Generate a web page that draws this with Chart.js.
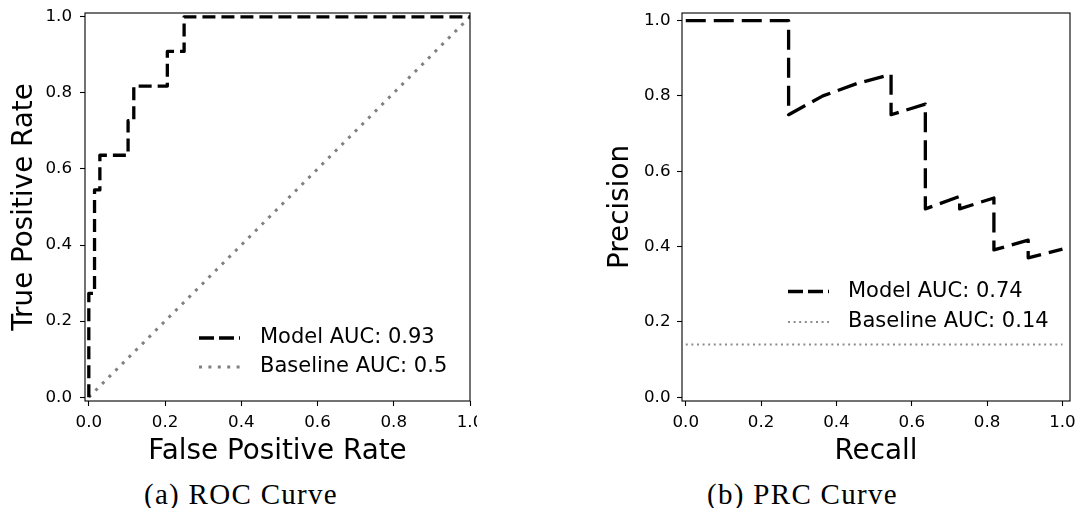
<!DOCTYPE html>
<html>
<head>
<meta charset="utf-8">
<script src="https://cdn.jsdelivr.net/npm/chart.js@4.4.1/dist/chart.umd.min.js"></script>
<style>
  body { margin: 0; background: #fff; }
  #wrap { position: relative; width: 1077px; height: 508px; overflow: hidden; }
  canvas { position: absolute; top: 0; }
  #roc { left: 0; }
  #prc { left: 590px; }
  .caption {
    position: absolute; top: 480px;
    font-family: "Liberation Serif", serif; font-size: 29px; line-height: 29px;
    letter-spacing: 1.3px; text-align: center; color: #000; white-space: nowrap;
  }
</style>
</head>
<body>
<div id="wrap">
  <canvas id="roc" width="477" height="470"></canvas>
  <canvas id="prc" width="487" height="470"></canvas>
  <div class="caption" style="left:0;width:482px">(a) ROC Curve</div>
  <div class="caption" style="left:641px;width:323px">(b) PRC Curve</div>
</div>
<script>
const FONT = 'DejaVu Sans';
const tickValues = [0, 0.2, 0.4, 0.6, 0.8, 1.0];

// ROC curve (step corners)
const rocFpr = [0, 0, 0.015, 0.015, 0.029, 0.029, 0.103, 0.103, 0.118, 0.118, 0.206, 0.206, 0.25, 0.25, 1.0];
const rocTpr = [0, 0.273, 0.273, 0.545, 0.545, 0.636, 0.636, 0.727, 0.727, 0.818, 0.818, 0.909, 0.909, 1.0, 1.0];
const rocChanceX = [0, 1];
const rocChanceY = [0, 1];

// precision-recall curve
const prRecall = [0, 0.273, 0.273, 0.364, 0.455, 0.545, 0.545, 0.636, 0.636, 0.727, 0.727, 0.818, 0.818, 0.909, 0.909, 1.0];
const prPrecision = [1.0, 1.0, 0.75, 0.8, 0.833, 0.857, 0.75, 0.778, 0.5, 0.533, 0.5, 0.529, 0.391, 0.417, 0.37, 0.393];
const prBaseX = [0, 1];
const prBaseY = [0.14, 0.14];

const pts = (xs, ys) => xs.map((x, i) => ({ x, y: ys[i] }));

// full box around the plot area
const frame = {
  id: 'frame',
  afterDatasetsDraw(chart) {
    const { ctx, chartArea: a } = chart;
    ctx.save();
    ctx.strokeStyle = '#000';
    ctx.lineWidth = 1.1;
    ctx.strokeRect(a.left, a.top, a.right - a.left, a.bottom - a.top);
    ctx.restore();
  }
};

// legend drawn inside the axes: line sample + label for each dataset
const insideLegend = {
  id: 'insideLegend',
  afterDraw(chart, args, opts) {
    const { ctx } = chart;
    ctx.save();
    ctx.font = `${opts.fontSize}px "${FONT}"`;
    ctx.textBaseline = 'middle';
    chart.data.datasets.forEach((ds, i) => {
      const y = opts.rows[i];
      ctx.beginPath();
      ctx.setLineDash(ds.legendDash || ds.borderDash || []);
      ctx.lineWidth = ds.borderWidth;
      ctx.strokeStyle = ds.borderColor;
      ctx.moveTo(opts.x, y);
      ctx.lineTo(opts.x + opts.handle, y);
      ctx.stroke();
      ctx.setLineDash([]);
      ctx.fillStyle = '#000';
      ctx.fillText(ds.label, opts.textX, y);
    });
    ctx.restore();
  }
};

function axis(min, max, o) {
  return {
    type: 'linear',
    min, max,
    afterBuildTicks: s => { s.ticks = tickValues.map(v => ({ value: v })); },
    afterFit: s => {
      if (o.size.h) s.height = o.size.h;
      if (o.size.w) s.width = o.size.w;
      s.paddingLeft = s.paddingRight = s.paddingTop = s.paddingBottom = 0;
    },
    ticks: {
      color: '#000',
      font: { family: FONT, size: 16.7 },
      padding: o.pad,
      autoSkip: false,
      maxRotation: 0,
      callback: v => v.toFixed(1)
    },
    grid: { drawOnChartArea: false, drawTicks: true, tickLength: 5, tickWidth: 1.1, tickColor: '#000' },
    border: { display: false },
    title: {
      display: true,
      text: o.title,
      color: '#000',
      font: { family: FONT, size: 27.8, lineHeight: 1 },
      padding: o.titlePad
    }
  };
}

function makeChart(id, datasets, xs, ys, legend) {
  return new Chart(document.getElementById(id), {
    type: 'scatter',
    data: { datasets },
    options: {
      responsive: false,
      animation: false,
      events: [],
      layout: { padding: { top: 13, right: 7, left: 0, bottom: 0 } },
      scales: { x: xs, y: ys },
      plugins: {
        legend: { display: false },
        tooltip: { enabled: false },
        insideLegend: legend
      }
    },
    plugins: [frame, insideLegend]
  });
}

const modelLine = {
  showLine: true, pointRadius: 0, borderColor: '#000', borderWidth: 3.3,
  borderJoinStyle: 'round', tension: 0, legendDash: [15, 5]
};

makeChart('roc', [
  { ...modelLine, label: 'Model AUC: 0.93', data: pts(rocFpr, rocTpr), borderDash: [13, 6] },
  { label: 'Baseline AUC: 0.5', data: pts(rocChanceX, rocChanceY), showLine: true, pointRadius: 0,
    borderColor: '#808080', borderWidth: 3, borderDash: [3, 6.4] }
],
  axis(-0.01, 1.0, { title: 'False Positive Rate', pad: 7, size: { h: 69 }, titlePad: { top: 0, bottom: 4.4 } }),
  axis(-0.01, 1.01, { title: 'True Positive Rate', pad: 8, size: { w: 85 }, titlePad: { top: 10.6, bottom: 0 } }),
  { x: 199, textX: 260, handle: 41, rows: [338, 367], fontSize: 21 }
);

makeChart('prc', [
  { ...modelLine, label: 'Model AUC: 0.74', data: pts(prRecall, prPrecision), borderDash: [20, 8] },
  { label: 'Baseline AUC: 0.14', data: pts(prBaseX, prBaseY), showLine: true, pointRadius: 0,
    borderColor: '#8c8c8c', borderWidth: 2, borderDash: [2, 3.6] }
],
  axis(-0.01, 1.02, { title: 'Recall', pad: 7, size: { h: 69 }, titlePad: { top: 0, bottom: 4.4 } }),
  axis(-0.01, 1.02, { title: 'Precision', pad: 6.5, size: { w: 92 }, titlePad: { top: 16.8, bottom: 0 } }),
  { x: 198, textX: 258, handle: 41, rows: [291.5, 322], fontSize: 21 }
);
</script>
</body>
</html>
